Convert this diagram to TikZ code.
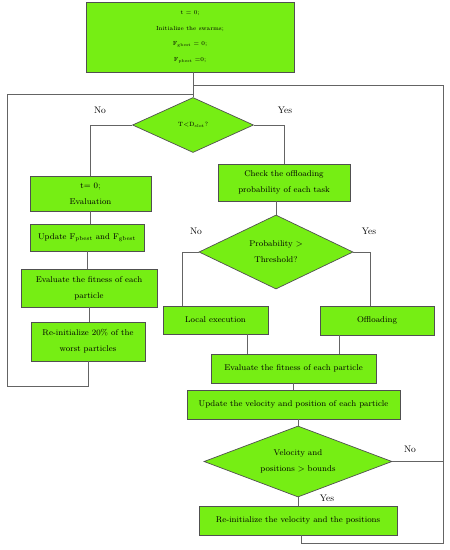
\documentclass[tikz,border=0pt]{standalone}
\usetikzlibrary{shapes.geometric}
\definecolor{boxgreen}{RGB}{118,238,20}
\definecolor{edgegray}{RGB}{80,80,80}
\definecolor{linegray}{RGB}{100,100,100}
\tikzset{
  box/.style={draw=edgegray, fill=boxgreen, line width=0.7pt, rectangle, inner sep=0pt, align=center, font=\fontsize{8.35}{16}\selectfont},
  dec/.style={draw=edgegray, fill=boxgreen, line width=0.7pt, diamond, inner sep=0pt, align=center, font=\fontsize{8.35}{16}\selectfont},
  conn/.style={draw=linegray, line width=0.6pt},
  lab/.style={font=\fontsize{9.5}{10}\selectfont, inner sep=0pt}
}
\begin{document}
\begin{tikzpicture}[x=1pt,y=-1pt]
\useasboundingbox (0,0) rectangle (450,550);
\fill[white] (0,0) rectangle (450,550);
% nodes
\node[box, minimum width=208pt, minimum height=70pt, font=\fontsize{5.9}{15.5}\selectfont] (top) at (190,37)
  {t = 0;\\Initialize the swarms;\\F\textsubscript{gbest} = 0;\\F\textsubscript{pbest} =0;};
\node[dec, minimum width=121pt, minimum height=55pt, aspect=2.2, font=\fontsize{6.1}{8}\selectfont] (d1) at (193,125) {T<D\textsubscript{slot}?};
\node[box, minimum width=121pt, minimum height=35pt] (ev) at (90.5,193.5) {t= 0;\\Evaluation};
\node[box, minimum width=114pt, minimum height=27pt] (up) at (87,237.5) {Update F\textsubscript{pbest} and F\textsubscript{gbest}};
\node[box, minimum width=136pt, minimum height=38pt] (fit) at (89,288) {Evaluate the fitness of each\\particle};
\node[box, minimum width=114pt, minimum height=39pt] (r20) at (88,341.5) {Re-initialize 20\% of the\\worst particles};
\node[box, minimum width=132pt, minimum height=37pt] (chk) at (284,182.5) {Check the offloading\\probability of each task};
\node[dec, minimum width=154pt, minimum height=74pt, aspect=2.08] (d2) at (276,252) {Probability >\\Threshold?};
\node[box, minimum width=105pt, minimum height=28pt] (loc) at (215.5,320) {Local execution};
\node[box, minimum width=114pt, minimum height=29pt] (off) at (377,320.5) {Offloading};
\node[box, minimum width=165pt, minimum height=29pt] (ef) at (293.5,368.5) {Evaluate the fitness of each particle};
\node[box, minimum width=213pt, minimum height=29pt] (uv) at (293.5,404.5) {Update the velocity and position of each particle};
\node[dec, minimum width=188pt, minimum height=71pt, aspect=2.65] (d3) at (298,461.5) {Velocity and\\positions > bounds};
\node[box, minimum width=198pt, minimum height=29pt] (ri) at (298,520.5) {Re-initialize the velocity and the positions};
% labels
\node[lab] (n1) at (100,110) {No};
\node[lab] (y1) at (285,110) {Yes};
\node[lab] (n2) at (196,231) {No};
\node[lab] (y2) at (369,231) {Yes};
\node[lab] (n3) at (410,449) {No};
\node[lab] (y3) at (327,498) {Yes};
% coordinates
\coordinate (rx) at (443,85);
\coordinate (rb) at (301,543);
\coordinate (lx) at (7,94);
\coordinate (lb) at (92,386);
\coordinate (lcx) at (182,0);
\coordinate (ocx) at (370,0);
\coordinate (lsx) at (247,0);
\coordinate (osx) at (339,0);
% connectors
\draw[conn] (d1.north) -- (d1.north |- top.south);
\draw[conn] (d1.west) -| (ev.north);
\draw[conn] (d1.east) -| (chk.north);
\draw[conn] (ev.south) -- (ev.south |- up.north);
\draw[conn] (up.south) -- (up.south |- fit.north);
\draw[conn] (fit.south) -- (fit.south |- r20.north);
\draw[conn] (r20.south) -- (r20.south |- lb) -- (lx |- lb) -- (lx) -- (lx -| d1.north);
\draw[conn] (d2.north) -- (d2.north |- chk.south);
\draw[conn] (d2.west) -- (d2.west -| lcx) -- (lcx |- loc.north);
\draw[conn] (d2.east) -- (d2.east -| ocx) -- (ocx |- off.north);
\draw[conn] (lsx |- loc.south) -- (lsx |- ef.north);
\draw[conn] (osx |- off.south) -- (osx |- ef.north);
\draw[conn] (ef.south) -- (ef.south |- uv.north);
\draw[conn] (d3.north) -- (d3.north |- uv.south);
\draw[conn] (d3.south) -- (ri.north);
\draw[conn] (d3.east) -- (d3.east -| rx);
\draw[conn] (rb |- ri.south) -- (rb) -- (rx |- rb) -- (rx) -- (rx -| d1.north);
\end{tikzpicture}
\end{document}
